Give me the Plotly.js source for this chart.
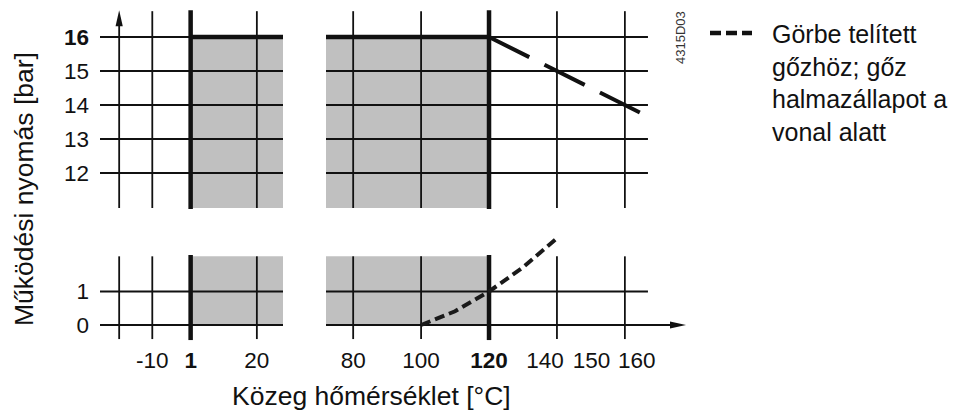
<!DOCTYPE html>
<html>
<head>
<meta charset="utf-8">
<script src="https://cdn.plot.ly/plotly-3.0.1.min.js"></script>
<style>html,body{margin:0;padding:0;background:#fff;}#chart{width:973px;height:415px;}</style>
</head>
<body>
<div id="chart"></div>
<script>
// ---- values ----
const pressureTicksHigh = [12, 13, 14, 15, 16];
const pressureTextHigh = ['12', '13', '14', '15', '<b>16</b>'];
const pressureTicksLow = [0, 1];
const pressureTextLow = ['0', '1'];
const tempTicksLeft = [-10, 1, 20];
const tempTextLeft = ['-10', '<b>1</b>', '20'];
const tempGridLeft = [-10, 20];
const tempGridRight = [80, 100, 140, 160];
const tempTicksRight = [80, 100, 120, 140, 150, 160];
const tempTextRight = ['80', '100', '<b>120</b>', '140', '150', '160'];
const tempLabelPosRight = [80, 100, 120, 136.5, 150.2, 163.5];
const tMin = 1;          // °C
const tMax = 120;        // °C
const pMax = 16;         // bar
const limitT = [120, 140, 160, 164.4];
const limitP = [16, 15, 14, 13.78];
const steamT = [100, 110, 120, 130, 140];
const steamP = [0, 0.41, 1.0, 1.72, 2.59];

// ---- panel (axis-break) extents ----
const leftX = [-25, 27.5];
const rightX = [72, 166.8];
const yAxisT = -19.5;
const topSpan = [10.97, 16.76];
const topThick = [10.94, 16.79];
const lowSpan = [-0.42, 2.05];
const lowThick = [-0.45, 2.09];
const grayTop = [10.97, pMax];
const grayLow = [0, 2.05];

const BLACK = '#111111';
const GRAY = '#c0c0c0';
const thin = 1.8, thick = 4.5;
const FONT = 'Liberation Sans, Arial, Helvetica, sans-serif';

function seg(list) { // list of [[x0,y0],[x1,y1]] -> x,y arrays with gaps
  const x = [], y = [];
  list.forEach(s => { x.push(s[0][0], s[1][0], null); y.push(s[0][1], s[1][1], null); });
  return {x, y};
}
function rect(xr, yr) {
  return {x: [xr[0], xr[1], xr[1], xr[0], xr[0]], y: [yr[0], yr[0], yr[1], yr[1], yr[0]]};
}
const traces = [];
function fillTrace(xr, yr, xa, ya) {
  const r = rect(xr, yr);
  traces.push({x: r.x, y: r.y, xaxis: xa, yaxis: ya, mode: 'lines', fill: 'toself',
    fillcolor: GRAY, line: {width: 0, color: GRAY}, hoverinfo: 'skip'});
}
function lineTrace(list, xa, ya, w) {
  const s = seg(list);
  traces.push({x: s.x, y: s.y, xaxis: xa, yaxis: ya, mode: 'lines',
    line: {color: BLACK, width: w}, hoverinfo: 'skip'});
}

// gray permitted regions
fillTrace([tMin, leftX[1]], grayTop, 'x', 'y');
fillTrace([rightX[0], tMax], grayTop, 'x2', 'y');
fillTrace([tMin, leftX[1]], grayLow, 'x', 'y2');
fillTrace([rightX[0], tMax], grayLow, 'x2', 'y2');

// grid lines
lineTrace([].concat(
  tempGridLeft.map(t => [[t, topSpan[0]], [t, topSpan[1]]]),
  [[[yAxisT, topSpan[0]], [yAxisT, topThick[1] - 0.3]]],
  pressureTicksHigh.map(p => [[leftX[0], p], [leftX[1], p]])
), 'x', 'y', thin);
lineTrace([].concat(
  tempGridRight.map(t => [[t, topSpan[0]], [t, topSpan[1]]]),
  pressureTicksHigh.map(p => [[rightX[0], p], [rightX[1], p]])
), 'x2', 'y', thin);
lineTrace([].concat(
  tempGridLeft.concat([yAxisT]).map(t => [[t, lowSpan[0]], [t, lowSpan[1]]]),
  pressureTicksLow.map(p => [[leftX[0], p], [leftX[1], p]])
), 'x', 'y2', thin);
lineTrace([].concat(
  tempGridRight.map(t => [[t, lowSpan[0]], [t, lowSpan[1]]]),
  [[[rightX[0], 1], [rightX[1], 1]]],
  [[[rightX[0], 0], [174, 0]]]
), 'x2', 'y2', thin);

// thick limit lines
lineTrace([[[tMin, topThick[0]], [tMin, topThick[1]]], [[tMin, pMax], [leftX[1], pMax]]], 'x', 'y', thick);
lineTrace([[[tMax, topThick[0]], [tMax, topThick[1]]], [[rightX[0], pMax], [tMax, pMax]]], 'x2', 'y', thick);
lineTrace([[[tMin, lowThick[0]], [tMin, lowThick[1]]]], 'x', 'y2', thick);
lineTrace([[[tMax, lowThick[0]], [tMax, lowThick[1]]]], 'x2', 'y2', thick);

// dashed pressure limit above 120 °C
traces.push({x: limitT, y: limitP, xaxis: 'x2', yaxis: 'y', mode: 'lines',
  line: {color: BLACK, width: 4, dash: '45px,17px'}, hoverinfo: 'skip'});
// saturated steam curve
traces.push({x: steamT, y: steamP, xaxis: 'x2', yaxis: 'y2', mode: 'lines',
  line: {color: '#1a1a1a', width: 4, dash: '10px,5px', shape: 'linear'}, hoverinfo: 'skip'});

const W = 973, H = 415;
const px = v => v / W, py = v => 1 - v / H;

const common = {showgrid: false, zeroline: false, showline: false, ticks: '', fixedrange: true,
  tickfont: {family: FONT, size: 22.5, color: BLACK}};

const layout = {
  width: W, height: H, margin: {l: 0, r: 0, t: 0, b: 0},
  paper_bgcolor: '#ffffff', plot_bgcolor: 'rgba(0,0,0,0)', showlegend: false,
  font: {family: FONT, color: BLACK},
  xaxis: Object.assign({}, common, {domain: [px(100), px(283)], range: leftX, anchor: 'y2', tickangle: 0,
    tickmode: 'array', tickvals: tempTicksLeft, ticktext: tempTextLeft, ticklabelstandoff: 3}),
  xaxis2: Object.assign({}, common, {domain: [px(326), px(686)], range: [72, 178], anchor: 'y2', tickangle: 0,
    tickmode: 'array', tickvals: tempLabelPosRight, ticktext: tempTextRight, ticklabelstandoff: 3}),
  yaxis: Object.assign({}, common, {domain: [py(209), py(9)], range: [10.941, 16.824], anchor: 'x',
    tickmode: 'array', tickvals: pressureTicksHigh, ticktext: pressureTextHigh, ticklabelstandoff: 10}),
  yaxis2: Object.assign({}, common, {domain: [py(341), py(230)], range: [-0.478, 2.836], anchor: 'x',
    tickmode: 'array', tickvals: pressureTicksLow, ticktext: pressureTextLow, ticklabelstandoff: 10}),
  shapes: [
    // axis arrowheads
    {type: 'path', xref: 'x2', yref: 'y2', xsizemode: 'pixel', ysizemode: 'pixel', xanchor: 178, yanchor: 0,
     path: 'M0,0 L-16,3.6 L-16,-3.6 Z', fillcolor: BLACK, line: {width: 0}},
    {type: 'path', xref: 'x', yref: 'y', xsizemode: 'pixel', ysizemode: 'pixel', xanchor: yAxisT, yanchor: topThick[1],
     path: 'M0,0 L-3.6,-16 L3.6,-16 Z', fillcolor: BLACK, line: {width: 0}},
    // legend sample
    {type: 'line', xref: 'paper', yref: 'paper', x0: px(710), x1: px(752), y0: py(33), y1: py(33),
     line: {color: BLACK, width: 4.5, dash: '11px,5px'}}
  ],
  annotations: [
    {text: 'Közeg hőmérséklet [°C]', xref: 'paper', yref: 'paper', x: px(371.5), y: py(396),
     xanchor: 'center', yanchor: 'middle', showarrow: false, font: {family: FONT, size: 26.5, color: BLACK}},
    {text: 'Működési nyomás [bar]', xref: 'paper', yref: 'paper', x: px(24), y: py(189), textangle: -90,
     xanchor: 'center', yanchor: 'middle', showarrow: false, font: {family: FONT, size: 26.5, color: BLACK}},
    {text: 'Görbe telített<br>gőzhöz; gőz<br>halmazállapot a<br>vonal alatt', xref: 'paper', yref: 'paper',
     x: px(770), y: py(18), xanchor: 'left', yanchor: 'top', align: 'left', showarrow: false,
     font: {family: FONT, size: 25, color: BLACK}},
    {text: '4315D03', xref: 'paper', yref: 'paper', x: px(681), y: py(38), textangle: -90,
     xanchor: 'center', yanchor: 'middle', showarrow: false, font: {family: FONT, size: 13, color: '#333'}}
  ]
};

Plotly.newPlot('chart', traces, layout, {displayModeBar: false, staticPlot: true});
</script>
</body>
</html>
